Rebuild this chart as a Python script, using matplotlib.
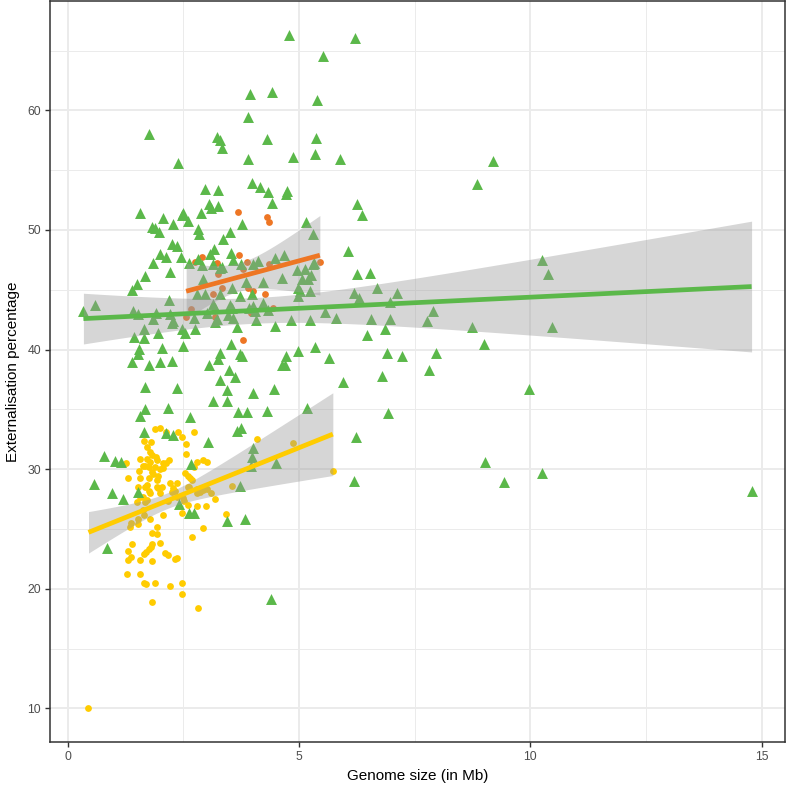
import numpy as np
import matplotlib
matplotlib.use("Agg")
import matplotlib.pyplot as plt

plt.rcParams['font.family'] = ['Liberation Sans', 'DejaVu Sans']

# genome size (Mb) / externalisation (%) per group
green_x = [4.78, 6.21, 5.52, 3.94, 4.42, 5.39, 3.90, 1.75, 3.23, 3.30, 3.34, 4.31, 5.37, 5.34, 3.90,
           4.87, 5.88, 2.39, 3.99, 4.16, 4.33, 4.74, 4.72, 4.42, 6.25, 6.36, 2.97, 3.25, 3.06, 3.10,
           3.25, 1.57, 2.50, 2.48, 2.89, 2.59, 1.83, 1.88, 1.98, 2.07, 2.28, 2.82, 2.84, 3.51, 3.77,
           3.36, 5.15, 5.30, 2.26, 2.37, 2.00, 2.13, 1.85, 2.44, 2.22, 1.49, 1.38, 2.63, 2.82, 3.08,
           3.17, 3.53, 3.58, 3.15, 2.91, 3.30, 3.34, 4.01, 4.12, 3.75, 4.48, 4.68, 4.96, 5.13, 5.06,
           5.19, 5.26, 5.32, 6.06, 6.25, 6.53, 6.19, 6.29, 6.68, 7.11, 2.20, 1.42, 0.34, 0.60, 1.68,
           2.93, 2.80, 2.97, 3.15, 3.19, 3.30, 3.56, 3.73, 3.99, 3.86, 4.22, 4.05, 4.22, 4.33, 4.63,
           4.98, 5.02, 5.24, 5.24, 5.80, 5.56, 1.51, 1.85, 1.90, 2.22, 2.28, 2.48, 2.54, 3.02, 3.23,
           3.47, 3.51, 3.58, 3.92, 4.07, 4.48, 4.83, 6.55, 6.96, 6.85, 6.47, 1.44, 1.64, 1.96, 2.50,
           1.55, 1.53, 2.03, 1.75, 2.00, 2.26, 1.38, 3.30, 3.25, 3.53, 3.73, 3.06, 3.49, 3.62, 3.30,
           4.72, 4.63, 4.70, 4.98, 5.34, 5.65, 6.90, 6.79, 5.95, 4.01, 4.46, 3.45, 1.68, 2.37, 3.45,
           3.15, 1.57, 1.68, 2.16, 2.65, 3.69, 3.88, 4.31, 5.17, 6.92, 1.64, 2.13, 2.28, 3.66, 3.75,
           3.04, 4.01, 3.99, 3.97, 4.50, 6.23, 6.19, 0.78, 1.03, 1.16, 2.67, 0.56, 0.95, 1.19, 1.51,
           2.41, 3.73, 2.63, 2.72, 3.45, 3.84, 0.84, 4.40, 9.20, 8.84, 10.24, 10.37, 6.96, 7.89, 7.76,
           8.73, 10.47, 8.99, 7.22, 7.97, 7.80, 9.96, 9.01, 9.44, 10.26, 14.78, 3.66, 3.19, 3.56, 4.98,
           4.01, 2.26, 3.77, 5.30, 1.64, 2.72, 2.76]
green_y = [66.33, 66.08, 64.58, 61.33, 61.50, 60.83, 59.42, 58.00, 57.75, 57.50, 56.83, 57.58, 57.67,
           56.33, 55.92, 56.08, 55.92, 55.58, 53.92, 53.58, 53.17, 53.25, 53.00, 52.25, 52.17, 51.25,
           53.42, 53.33, 52.17, 51.83, 52.00, 51.42, 51.42, 51.25, 51.42, 50.75, 50.25, 50.17, 49.83,
           51.00, 50.50, 50.08, 49.67, 49.83, 50.50, 49.25, 50.67, 49.67, 48.83, 48.67, 48.00, 47.75,
           47.25, 47.75, 46.50, 45.50, 45.00, 47.25, 47.58, 48.00, 48.42, 48.08, 47.50, 47.17, 47.08,
           46.83, 46.92, 47.17, 47.42, 47.17, 47.67, 47.92, 46.67, 46.75, 45.92, 45.92, 46.25, 47.25,
           48.25, 46.33, 46.42, 44.75, 44.33, 45.17, 44.75, 44.17, 43.25, 43.25, 43.75, 46.17, 45.92,
           44.67, 44.67, 43.83, 43.50, 44.67, 45.17, 44.50, 44.67, 45.67, 45.67, 43.25, 43.92, 43.33,
           46.00, 44.50, 44.92, 44.92, 42.50, 42.67, 43.17, 43.00, 42.58, 43.08, 43.00, 42.42, 41.75,
           41.42, 43.08, 42.58, 42.92, 43.75, 42.67, 43.50, 42.50, 42.00, 42.50, 42.58, 42.58, 41.75,
           41.25, 41.08, 41.00, 41.42, 40.33, 40.08, 39.67, 40.17, 38.75, 38.92, 39.08, 38.92, 39.75,
           39.25, 40.50, 39.67, 38.75, 38.33, 37.67, 37.42, 39.50, 38.75, 38.75, 39.92, 40.25, 39.33,
           39.75, 37.75, 37.25, 36.33, 36.67, 36.58, 36.83, 36.75, 35.67, 35.67, 34.42, 35.00, 35.08,
           34.33, 34.75, 34.75, 34.83, 35.08, 34.67, 33.08, 33.00, 32.83, 33.17, 33.42, 32.25, 31.75,
           31.00, 30.25, 30.50, 32.67, 29.00, 31.08, 30.67, 30.58, 30.42, 28.75, 28.00, 27.50, 28.08,
           27.08, 28.58, 26.33, 26.33, 25.67, 25.83, 23.42, 19.17, 55.75, 53.83, 47.50, 46.33, 44.00,
           43.25, 42.42, 41.92, 41.92, 40.50, 39.42, 39.75, 38.33, 36.67, 30.58, 28.92, 29.67, 28.17,
           41.92, 42.33, 43.50, 45.17, 43.67, 42.25, 39.50, 47.17, 41.75, 42.67, 41.75]

yellow_x = [1.88, 2.00, 2.13, 2.39, 2.46, 2.72, 1.64, 1.79, 1.72, 2.56, 1.77, 1.83, 2.56, 1.90, 1.94,
            1.57, 2.18, 2.07, 2.13, 1.72, 1.77, 1.75, 1.68, 1.88, 1.62, 1.25, 2.05, 2.00, 2.80, 2.74,
            2.93, 3.02, 1.55, 1.83, 1.85, 1.96, 2.54, 2.59, 2.65, 2.69, 1.31, 1.57, 1.75, 1.94, 2.22,
            2.37, 1.72, 1.68, 1.51, 1.92, 1.96, 2.03, 2.28, 2.59, 2.63, 2.80, 2.87, 2.93, 3.02, 1.75,
            1.77, 1.62, 1.57, 2.00, 2.26, 2.31, 2.37, 2.50, 2.80, 2.87, 1.49, 1.68, 1.72, 2.16, 2.52,
            2.59, 2.80, 3.00, 1.62, 1.64, 2.07, 2.46, 1.53, 1.36, 1.51, 1.77, 1.34, 1.94, 2.93, 1.83,
            1.94, 2.69, 1.38, 1.83, 1.79, 2.00, 4.09, 4.87, 5.73, 3.56, 3.10, 3.19, 3.43, 1.31, 1.36,
            1.31, 1.64, 1.70, 1.75, 2.11, 2.16, 1.57, 1.83, 2.31, 2.37, 1.29, 1.57, 1.66, 1.70, 1.88,
            2.22, 2.46, 2.46, 1.83, 2.82, 0.45]
yellow_y = [33.33, 33.42, 33.08, 33.08, 32.67, 33.08, 32.33, 32.25, 31.83, 32.08, 31.42, 31.17, 31.25,
            31.00, 30.75, 30.83, 30.75, 30.50, 30.50, 30.83, 30.58, 30.17, 30.25, 30.17, 30.25, 30.50,
            30.08, 30.00, 30.58, 30.17, 30.75, 30.58, 29.83, 29.75, 29.58, 29.42, 29.67, 29.42, 29.25,
            29.08, 29.25, 29.25, 29.25, 29.08, 28.83, 28.83, 28.67, 28.50, 28.50, 28.50, 28.42, 28.50,
            28.42, 28.50, 28.50, 28.33, 28.33, 28.25, 28.33, 28.17, 28.00, 27.67, 27.67, 28.00, 28.08,
            28.17, 27.67, 27.58, 28.00, 28.08, 27.25, 27.25, 27.42, 27.33, 27.33, 27.00, 26.92, 26.92,
            26.58, 26.17, 26.17, 26.33, 25.83, 25.50, 25.42, 25.83, 25.17, 25.17, 25.08, 24.67, 24.58,
            24.33, 23.75, 23.75, 23.50, 23.83, 32.50, 32.17, 29.83, 28.58, 28.00, 27.50, 26.25, 23.17,
            22.67, 22.42, 22.92, 23.08, 23.33, 23.00, 22.83, 22.42, 22.33, 22.50, 22.58, 21.25, 21.25,
            20.50, 20.42, 20.50, 20.25, 20.50, 19.58, 18.92, 18.42, 10.00]

orange_x = [3.69, 4.31, 4.35, 2.76, 2.91, 3.23, 3.71, 3.88, 3.79, 4.35, 3.25, 3.34, 3.13, 3.90, 4.01,
            4.27, 2.67, 2.56, 3.19, 3.97, 4.44, 3.79, 5.45]
orange_y = [51.50, 51.08, 50.67, 47.33, 47.75, 47.25, 47.92, 47.33, 46.75, 47.17, 46.33, 45.17, 44.67,
            45.17, 44.92, 44.67, 43.42, 42.75, 42.75, 43.08, 43.50, 40.83, 47.33]

c_green = '#5BB84A'
c_yellow = '#FFCC00'
c_orange = '#EE7624'


def t975(df):
    # Cornish-Fisher approximation of the 97.5% t quantile
    z = 1.959964
    return (z + (z**3 + z) / (4 * df) + (5 * z**5 + 16 * z**3 + 3 * z) / (96 * df**2)
            + (3 * z**7 + 19 * z**5 + 17 * z**3 - 15 * z) / (384 * df**3))


def add_smooth(ax, x, y, color):
    x = np.asarray(x)
    y = np.asarray(y)
    n = len(x)
    b1, b0 = np.polyfit(x, y, 1)
    xs = np.linspace(x.min(), x.max(), 80)
    fit = b0 + b1 * xs
    s = np.sqrt(np.sum((y - (b0 + b1 * x))**2) / (n - 2))
    se = s * np.sqrt(1 / n + (xs - x.mean())**2 / np.sum((x - x.mean())**2))
    t = t975(n - 2)
    ax.fill_between(xs, fit - t * se, fit + t * se, color='#999999', alpha=0.4, lw=0, zorder=3)
    ax.plot(xs, fit, color=color, lw=3.4, zorder=4, solid_capstyle='butt')


fig = plt.figure(figsize=(7.87, 7.86), dpi=100)
ax = fig.add_axes([50 / 787, 44 / 786, 735 / 787, 741 / 786])

ax.scatter(yellow_x, yellow_y, s=24, marker='o', color=c_yellow, lw=0, zorder=2)
ax.scatter(orange_x, orange_y, s=24, marker='o', color=c_orange, lw=0, zorder=2)
ax.scatter(green_x, green_y, s=62, marker='^', color=c_green, lw=0, zorder=2)

add_smooth(ax, green_x, green_y, c_green)
add_smooth(ax, yellow_x, yellow_y, c_yellow)
add_smooth(ax, orange_x, orange_y, c_orange)

all_x = green_x + yellow_x + orange_x
all_y = green_y + yellow_y + orange_y
xr = max(all_x) - min(all_x)
yr = max(all_y) - min(all_y)
ax.set_xlim(min(all_x) - 0.05 * xr, max(all_x) + 0.05 * xr)
ax.set_ylim(min(all_y) - 0.05 * yr, max(all_y) + 0.05 * yr)

ax.set_xticks([0, 5, 10, 15])
ax.set_yticks([10, 20, 30, 40, 50, 60])
ax.set_xticks([2.5, 7.5, 12.5], minor=True)
ax.set_yticks([15, 25, 35, 45, 55, 65], minor=True)
ax.grid(which='major', color='#EBEBEB', lw=1.4, zorder=0)
ax.grid(which='minor', color='#EBEBEB', lw=0.7, zorder=0)
ax.set_axisbelow(True)
ax.tick_params(which='major', length=3.5, width=1.0, color='#333333', labelcolor='#4D4D4D',
               labelsize=8.8, pad=3)
ax.tick_params(which='minor', length=0)
for sp in ax.spines.values():
    sp.set_color('#333333')
    sp.set_linewidth(1.1)

ax.set_xlabel('Genome size (in Mb)', fontsize=11, labelpad=4)
ax.set_ylabel('Externalisation percentage', fontsize=11, labelpad=5)

fig.savefig('out.png', dpi=100)
